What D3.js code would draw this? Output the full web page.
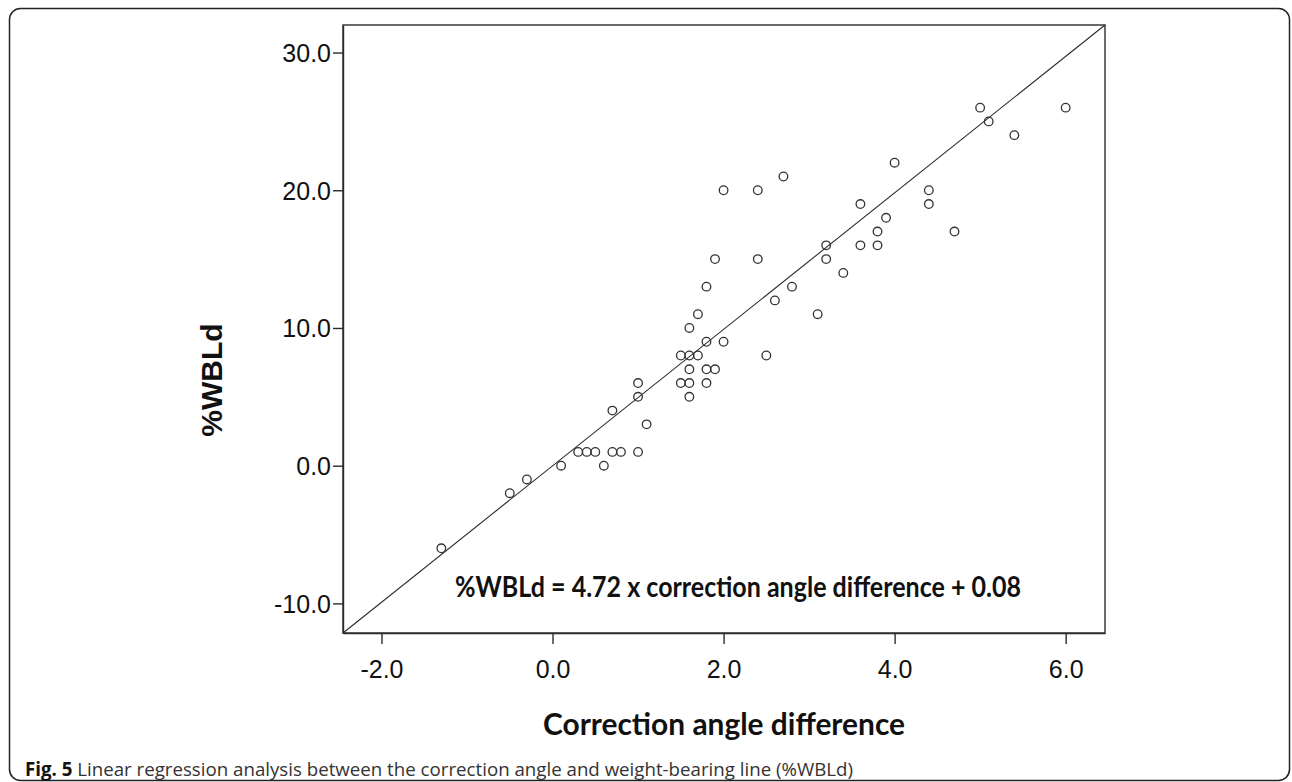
<!DOCTYPE html>
<html>
<head>
<meta charset="utf-8">
<script src="https://cdn.jsdelivr.net/npm/d3@7"></script>
<style>
  body { margin: 0; background: #fff; }
  svg { display: block; }
</style>
</head>
<body>
<svg id="chart" width="1292" height="782"></svg>
<script>
// Axis ticks
var xTicks = [-2, 0, 2, 4, 6];
var yTicks = [-10, 0, 10, 20, 30];
var xDomain = [-2.45, 6.46];
var yDomain = [-12.15, 32.0];

// Correction angle difference vs %WBLd
var angleDiff = [-1.3, -0.5, -0.3, 0.1, 0.6, 0.3, 0.4, 0.5, 0.7, 0.8, 1.0, 1.1, 0.7, 1.0, 1.0,
    1.5, 1.6, 1.8, 1.6, 1.6, 1.8, 1.9, 1.5, 1.6, 1.7, 2.5, 1.8, 2.0, 1.6, 1.7, 3.1, 2.6,
    1.8, 2.8, 3.4, 1.9, 2.4, 3.2, 3.2, 3.6, 3.8, 3.8, 4.7, 3.9, 3.6, 4.4, 4.4, 2.0, 2.4,
    2.7, 4.0, 5.4, 5.1, 5.0, 6.0];
var wbld = [-6, -2, -1, 0, 0, 1, 1, 1, 1, 1, 1, 3, 4, 5, 6,
    6, 6, 6, 5, 7, 7, 7, 8, 8, 8, 8, 9, 9, 10, 11, 11, 12,
    13, 13, 14, 15, 15, 15, 16, 16, 16, 17, 17, 18, 19, 19, 20, 20, 20,
    21, 22, 24, 25, 26, 26];

// Fit line end points as drawn (corner to corner of the plot box)
var fitX = [-2.45, 6.46];
var fitY = [-12.15, 32.0];

var equationText = '%WBLd = 4.72 x correction angle difference + 0.08';
var xTitle = 'Correction angle difference';
var yTitle = '%WBLd';

var svg = d3.select('#chart');
var box = {l: 343, r: 1105, t: 25, b: 633};
var ink = '#2b2b2b';

var x = d3.scaleLinear().domain(xDomain).range([box.l, box.r]);
var y = d3.scaleLinear().domain(yDomain).range([box.b, box.t]);

// outer figure frame
svg.append('rect')
    .attr('x', 9.5).attr('y', 8.5)
    .attr('width', 1280).attr('height', 772)
    .attr('rx', 11).attr('ry', 11)
    .attr('fill', 'none')
    .attr('stroke', '#222')
    .attr('stroke-width', 1.5);

// plot box
svg.append('rect')
    .attr('x', box.l).attr('y', box.t)
    .attr('width', box.r - box.l).attr('height', box.b - box.t)
    .attr('fill', '#fff')
    .attr('stroke', ink)
    .attr('stroke-width', 1.4);

var fmt = function(d) { return d.toFixed(1); };

var xAxis = svg.append('g')
    .attr('transform', 'translate(0,' + box.b + ')')
    .call(d3.axisBottom(x).tickValues(xTicks).tickFormat(fmt).tickSize(11).tickSizeOuter(0));
var yAxis = svg.append('g')
    .attr('transform', 'translate(' + box.l + ',0)')
    .call(d3.axisLeft(y).tickValues(yTicks).tickFormat(fmt).tickSize(10).tickSizeOuter(0));

[xAxis, yAxis].forEach(function(g) {
    g.select('.domain').attr('stroke', ink).attr('stroke-width', 1.4);
    g.selectAll('.tick line').attr('stroke', ink).attr('stroke-width', 1.4);
    g.selectAll('.tick text')
        .attr('fill', '#111')
        .style('font-family', '"Liberation Sans", Arial, sans-serif')
        .style('font-size', '25px');
});
xAxis.selectAll('.tick text').attr('dy', null).attr('y', 45);
yAxis.selectAll('.tick text').attr('x', -12).attr('dy', '0.36em');

// fit line
svg.append('line')
    .attr('x1', x(fitX[0])).attr('y1', y(fitY[0]))
    .attr('x2', x(fitX[1])).attr('y2', y(fitY[1]))
    .attr('stroke', ink)
    .attr('stroke-width', 1.1);

// points
svg.selectAll('.pt')
    .data(angleDiff)
    .enter()
    .append('circle')
    .attr('class', 'pt')
    .attr('cx', function(d) { return x(d); })
    .attr('cy', function(d, i) { return y(wbld[i]); })
    .attr('r', 4.3)
    .attr('fill', 'none')
    .attr('stroke', '#333')
    .attr('stroke-width', 1.3);

// regression equation
svg.append('text')
    .attr('x', 455).attr('y', 597)
    .attr('textLength', 566)
    .attr('lengthAdjust', 'spacingAndGlyphs')
    .style('font-family', 'Lato, "Open Sans", sans-serif')
    .style('font-weight', 'bold')
    .style('font-size', '28px')
    .attr('fill', '#111')
    .text(equationText);

// axis titles
svg.append('text')
    .attr('x', (box.l + box.r) / 2).attr('y', 735)
    .attr('text-anchor', 'middle')
    .attr('textLength', 362)
    .attr('lengthAdjust', 'spacingAndGlyphs')
    .style('font-family', 'Lato, "Open Sans", sans-serif')
    .style('font-weight', 'bold')
    .style('font-size', '31px')
    .attr('fill', '#111')
    .text(xTitle);

svg.append('text')
    .attr('transform', 'translate(222,' + 380 + ') rotate(-90)')
    .attr('text-anchor', 'middle')
    .style('font-family', '"Liberation Sans", Arial, sans-serif')
    .style('font-weight', 'bold')
    .style('font-size', '30px')
    .attr('fill', '#111')
    .text(yTitle);

// caption
var cap = svg.append('text')
    .attr('x', 25).attr('y', 776)
    .attr('textLength', 828)
    .attr('lengthAdjust', 'spacingAndGlyphs')
    .style('font-family', '"Open Sans", "Noto Sans", sans-serif')
    .style('font-size', '19px')
    .attr('fill', '#333');
cap.append('tspan').style('font-weight', 'bold').attr('fill', '#111').text('Fig. 5');
cap.append('tspan').style('font-weight', '400').text(' Linear regression analysis between the correction angle and weight-bearing line (%WBLd)');
</script>
</body>
</html>
